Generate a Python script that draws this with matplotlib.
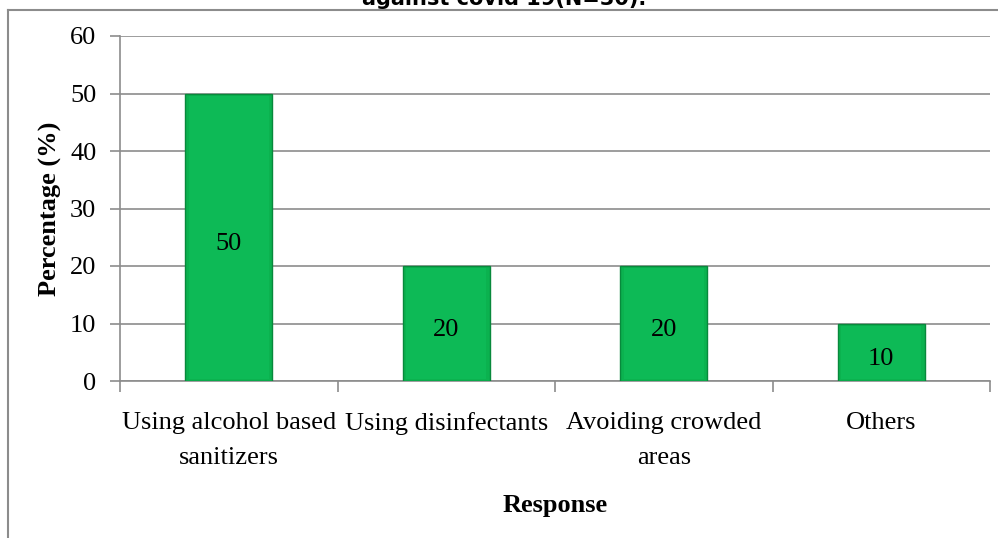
import matplotlib
matplotlib.use("Agg")
import matplotlib.pyplot as plt
import matplotlib.transforms as mtransforms
from matplotlib.patches import Rectangle
from matplotlib.lines import Line2D

categories = ["Using alcohol based\nsanitizers", "Using disinfectants",
              "Avoiding crowded\nareas", "Others"]
values = [50, 20, 20, 10]
yticks = [0, 10, 20, 30, 40, 50, 60]

W, H = 998, 538
fig = plt.figure(figsize=(W / 100, H / 100), dpi=100)
fig.patch.set_facecolor("white")

# axes placement in pixels
x0, x1 = 120, 990
y_top, y_bot = 36, 381
ax = fig.add_axes([x0 / W, 1 - y_bot / H, (x1 - x0) / W, (y_bot - y_top) / H])

serif = "Liberation Serif"
xpos = list(range(len(categories)))
bars = ax.bar(xpos, values, width=0.4, color="#0bb24f", edgecolor="#08893c",
              linewidth=1.0, zorder=3)
# bevel highlight on each bar
for b in bars:
    bx, by = b.get_x(), b.get_y()
    bw, bh = b.get_width(), b.get_height()
    ax.add_patch(Rectangle((bx + bw * 0.04, by + 0.35), bw * 0.92, bh - 0.7,
                           facecolor="#0dba56", edgecolor="none", zorder=3.5))

label_shift = mtransforms.offset_copy(ax.transData, fig=fig, x=0, y=-7,
                                      units="dots")
for x, v in zip(xpos, values):
    ax.text(x, v / 2, str(v), ha="center", va="center", fontsize=19,
            family=serif, color="black", zorder=5, transform=label_shift)

ax.set_xlim(-0.5, len(categories) - 0.5)
ax.set_ylim(0, 60)
ax.set_yticks(yticks)
ax.set_yticklabels([str(t) for t in yticks], family=serif, fontsize=19)
ax.yaxis.grid(True, color="#8c8c8c", linewidth=1.2, zorder=0)
ax.set_axisbelow(True)

ax.set_xticks([i - 0.5 for i in range(len(categories) + 1)])
ax.set_xticklabels([])
ax.set_xticks(xpos, minor=True)
ax.set_xticklabels(categories, minor=True, family=serif, fontsize=19,
                   linespacing=1.8)
ax.tick_params(axis="x", which="minor", length=0, pad=22)
ax.tick_params(axis="x", which="major", length=8, width=1.2, color="#8c8c8c")
ax.tick_params(axis="y", length=7, width=1.2, color="#8c8c8c", pad=10)

for s in ["top", "right"]:
    ax.spines[s].set_visible(False)
for s in ["left", "bottom"]:
    ax.spines[s].set_color("#8c8c8c")
    ax.spines[s].set_linewidth(1.2)

ax.set_ylabel("Percentage (%)", family=serif, fontsize=19, fontweight="bold",
              labelpad=6)
ax.set_xlabel("Response", family=serif, fontsize=19, fontweight="bold",
              labelpad=18)

# outer chart frame
fig.add_artist(Line2D([8 / W, 1.0], [1 - 9.5 / H, 1 - 9.5 / H],
                      transform=fig.transFigure, color="#8c8c8c", linewidth=1.5))
fig.add_artist(Line2D([8 / W, 8 / W], [0, 1 - 9.5 / H],
                      transform=fig.transFigure, color="#8c8c8c", linewidth=1.5))

fig.text(504 / W, 1 - 5 / H, "against covid 19(N=30).", ha="center",
         va="baseline", fontsize=15, fontweight="bold", family="DejaVu Sans")

fig.savefig("out.png", dpi=100)
